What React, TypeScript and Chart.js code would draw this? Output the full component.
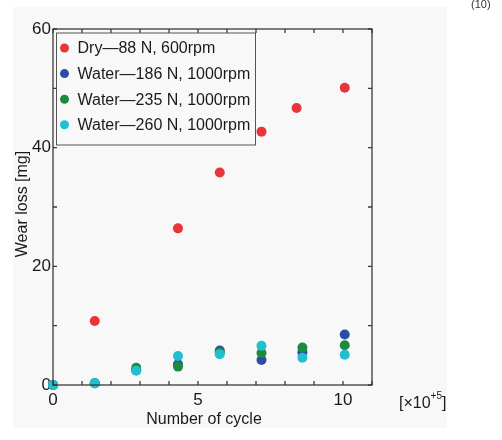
import React, { useEffect, useRef } from "react";
import { Chart, registerables } from "chart.js";
Chart.register(...registerables);

const seriesLabels = [
  "Dry\u201488 N, 600rpm",
  "Water\u2014186 N, 1000rpm",
  "Water\u2014235 N, 1000rpm",
  "Water\u2014260 N, 1000rpm",
];
const seriesColors = ["#e8353a", "#2a4ea8", "#1d8a3e", "#22bfd0"];

const dryCycles = [0, 1.44, 4.31, 5.75, 7.19, 8.4, 10.06];
const dryLoss = [0, 10.8, 26.4, 35.8, 42.7, 46.7, 50.1];

const waterCycles = [0, 1.44, 2.87, 4.31, 5.75, 7.19, 8.6, 10.06];
const water186Loss = [0, 0.3, 2.5, 3.5, 5.8, 4.2, 5.5, 8.5];
const water235Loss = [0, 0.3, 2.9, 3.1, 5.5, 5.4, 6.3, 6.7];
const water260Loss = [0, 0.3, 2.4, 4.9, 5.2, 6.6, 4.6, 5.1];

const xLabelTicks = [0, 5, 10];
const yLabelTicks = [0, 20, 40, 60];

const FONT = "'Liberation Sans', Arial, Helvetica, sans-serif";

const toPoints = (xs: number[], ys: number[]) => xs.map((x, i) => ({ x, y: ys[i] }));

const framePlugin = {
  id: "framePlugin",
  beforeDraw(chart: any) {
    const { ctx, width, height } = chart;
    ctx.save();
    ctx.fillStyle = "#ffffff";
    ctx.fillRect(0, 0, width, height);
    ctx.fillStyle = "#f8f8f8";
    ctx.fillRect(13, 7, 434, 421);
    ctx.restore();
  },
  afterDraw(chart: any) {
    const { ctx, chartArea } = chart;
    const xs = chart.scales.x;
    const ys = chart.scales.y;
    const { left, right, top, bottom } = chartArea;
    ctx.save();
    // frame
    ctx.strokeStyle = "#3a3a3a";
    ctx.lineWidth = 1.3;
    ctx.strokeRect(left, top, right - left, bottom - top);
    // inward ticks
    const tl = 4;
    ctx.beginPath();
    for (let v = xs.min; v <= xs.max; v += 1) {
      const px = xs.getPixelForValue(v);
      ctx.moveTo(px, bottom);
      ctx.lineTo(px, bottom - tl);
      ctx.moveTo(px, top);
      ctx.lineTo(px, top + tl);
    }
    for (let v = ys.min; v <= ys.max; v += 10) {
      const py = ys.getPixelForValue(v);
      ctx.moveTo(left, py);
      ctx.lineTo(left + tl, py);
      ctx.moveTo(right, py);
      ctx.lineTo(right - tl, py);
    }
    ctx.stroke();

    // legend
    const lx = left + 3.5;
    const ly = top + 4;
    const lw = 199;
    const lh = 112;
    ctx.fillStyle = "#f8f8f8";
    ctx.fillRect(lx, ly, lw, lh);
    ctx.strokeStyle = "#555555";
    ctx.lineWidth = 1;
    ctx.strokeRect(lx, ly, lw, lh);
    ctx.font = `16px ${FONT}`;
    ctx.textBaseline = "middle";
    ctx.textAlign = "left";
    seriesLabels.forEach((lab, i) => {
      const cy = ly + 15 + i * 25.6;
      ctx.fillStyle = seriesColors[i];
      ctx.beginPath();
      ctx.arc(lx + 8, cy, 4.5, 0, Math.PI * 2);
      ctx.fill();
      ctx.fillStyle = "#1a1a1a";
      ctx.fillText(lab, lx + 21, cy + 1);
    });

    // axis titles
    ctx.fillStyle = "#1a1a1a";
    ctx.font = `16px ${FONT}`;
    ctx.textAlign = "center";
    ctx.textBaseline = "middle";
    ctx.fillText("Number of cycle", 204, 420);
    ctx.save();
    ctx.translate(23, 204);
    ctx.rotate(-Math.PI / 2);
    ctx.fillText("Wear loss [mg]", 0, 0);
    ctx.restore();

    // exponent
    ctx.textAlign = "left";
    ctx.textBaseline = "alphabetic";
    ctx.font = `16px ${FONT}`;
    let x = 399;
    const by = 408;
    ctx.fillText("[\u00d710", x, by);
    x += ctx.measureText("[\u00d710").width;
    ctx.font = `10px ${FONT}`;
    ctx.fillText("+5", x, by - 9);
    x += ctx.measureText("+5").width;
    ctx.font = `16px ${FONT}`;
    ctx.fillText("]", x, by);

    // equation number
    ctx.font = `11px ${FONT}`;
    ctx.fillStyle = "#333333";
    ctx.textBaseline = "middle";
    ctx.fillText("(10)", 471, 5);
    ctx.restore();
  },
};

export default function App() {
  const ref = useRef<HTMLCanvasElement | null>(null);
  useEffect(() => {
    if (!ref.current) return;
    const seriesY = [dryLoss, water186Loss, water235Loss, water260Loss];
    const seriesX = [dryCycles, waterCycles, waterCycles, waterCycles];
    const chart = new Chart(ref.current, {
      type: "scatter",
      data: {
        datasets: seriesLabels.map((label, i) => ({
          label,
          data: toPoints(seriesX[i], seriesY[i]),
          backgroundColor: seriesColors[i],
          borderColor: seriesColors[i],
          borderWidth: 0,
          pointRadius: 5,
          clip: false,
          order: seriesLabels.length - i,
        })),
      },
      options: {
        animation: false,
        responsive: false,
        maintainAspectRatio: false,
        layout: { padding: { left: 0, top: 29, right: 130, bottom: 0 } },
        plugins: { legend: { display: false }, tooltip: { enabled: false } },
        scales: {
          x: {
            type: "linear",
            min: 0,
            max: 11,
            grid: { display: false, drawTicks: false },
            border: { display: false },
            afterFit: (s: any) => {
              s.height = 55;
            },
            ticks: {
              stepSize: 1,
              autoSkip: false,
              maxRotation: 0,
              padding: 5,
              color: "#1a1a1a",
              font: { family: FONT, size: 17 },
              callback: (v: any) => (xLabelTicks.includes(Number(v)) ? String(v) : ""),
            },
          },
          y: {
            type: "linear",
            min: 0,
            max: 60,
            grid: { display: false, drawTicks: false },
            border: { display: false },
            afterFit: (s: any) => {
              s.width = 53;
            },
            ticks: {
              stepSize: 10,
              autoSkip: false,
              padding: 2,
              color: "#1a1a1a",
              font: { family: FONT, size: 17 },
              callback: (v: any) => (yLabelTicks.includes(Number(v)) ? String(v) : ""),
            },
          },
        },
      },
      plugins: [framePlugin],
    });
    return () => chart.destroy();
  }, []);
  return (
    <div style={{ position: "fixed", left: 0, top: 0, width: 502, height: 440, background: "#fff" }}>
      <canvas ref={ref} width={502} height={440} style={{ width: 502, height: 440, display: "block" }} />
    </div>
  );
}
